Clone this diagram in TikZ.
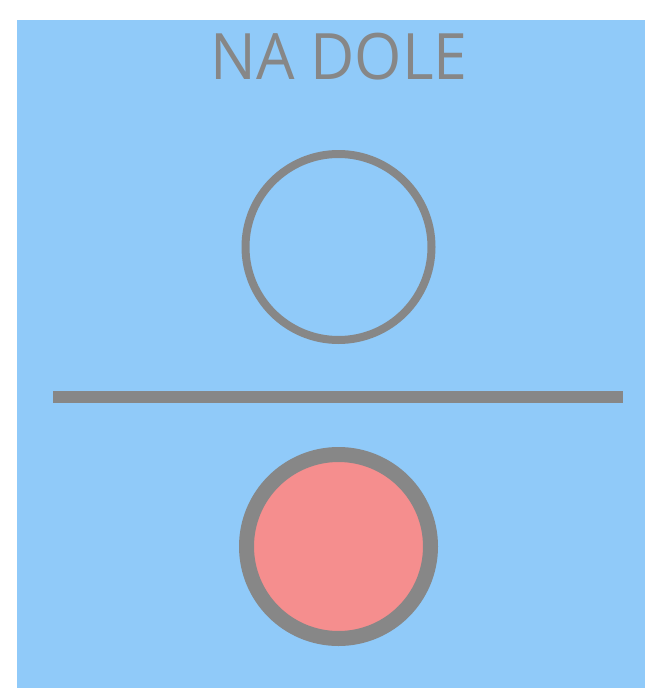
\documentclass[tikz,border=0pt]{standalone}
\usepackage{fontspec}
\setmainfont{Open Sans}[FakeStretch=0.95]
\usetikzlibrary{positioning}
\definecolor{skyblue}{RGB}{144,202,249}
\definecolor{ringgray}{RGB}{135,135,135}
\definecolor{softred}{RGB}{245,142,142}

\begin{document}
\begin{tikzpicture}[x=1pt,y=-1pt,
  title/.style={font=\fontsize{64}{64}\selectfont,text=ringgray,inner sep=0pt,anchor=base},
  hollow/.style={circle,draw=ringgray,line width=8pt,minimum size=186pt,inner sep=0pt},
  filled/.style={circle,draw=ringgray,fill=softred,line width=15pt,minimum size=184pt,inner sep=0pt},
  bar/.style={draw=ringgray,line width=12pt}]
  % page and the blue panel
  \fill[white] (0,0) rectangle (645,688);
  \fill[skyblue] (17,20) rectangle (645,688);
  \useasboundingbox (0,0) rectangle (645,688);
  \node[title] (head) at (339,79) {NA DOLE};
  \node[hollow] (up) at (338.5,247) {};
  \node[filled] (down) at (338.5,546.5) {};
  % the dividing bar
  \coordinate (barl) at (53,397);
  \coordinate (barr) at (623,397);
  \draw[bar] (barl) -- (barr);
\end{tikzpicture}
\end{document}
